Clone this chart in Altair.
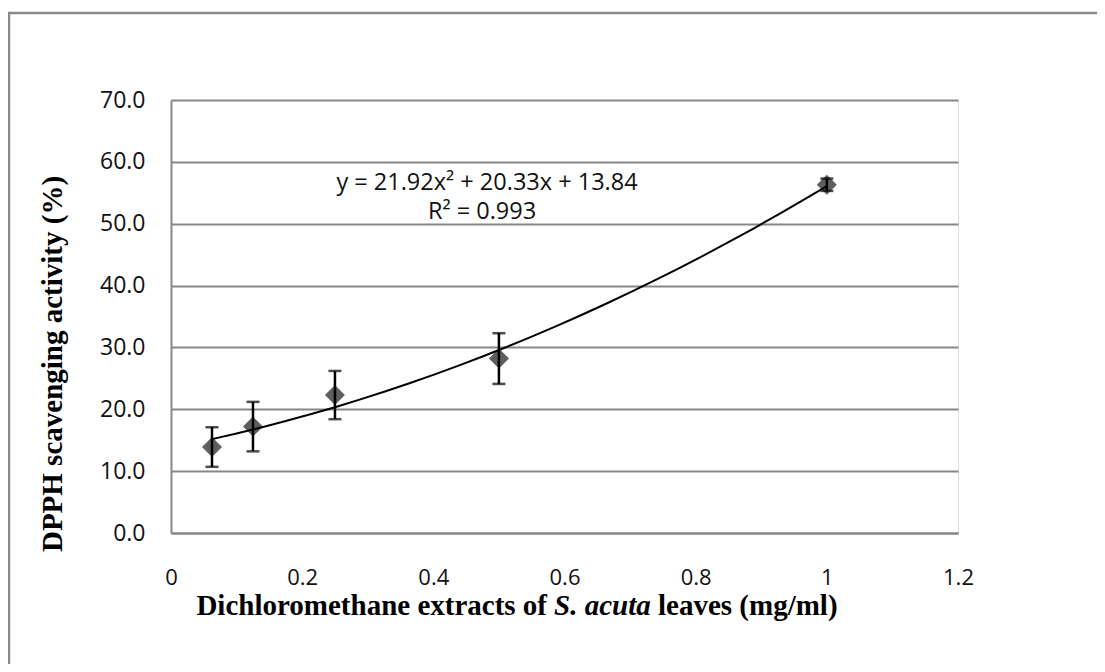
import altair as alt
import pandas as pd

# Data
conc = [0.0625, 0.125, 0.25, 0.5, 1.0]
activity = [13.9, 17.2, 22.3, 28.2, 56.3]
error = [3.2, 4.0, 3.9, 4.1, 1.0]

x_ticks = [0, 0.2, 0.4, 0.6, 0.8, 1.0, 1.2]
y_ticks = [0, 10, 20, 30, 40, 50, 60, 70]

eq_line1 = "y = 21.92x² + 20.33x + 13.84"
eq_line2 = "R² = 0.993"
y_title = "DPPH scavenging activity (%)"
x_title_a = "Dichloromethane extracts of"
x_title_b = "S. acuta"
x_title_c = "leaves (mg/ml)"

df = pd.DataFrame({
    "x": conc,
    "y": activity,
    "lo": [a - e for a, e in zip(activity, error)],
    "hi": [a + e for a, e in zip(activity, error)],
})

W, H = 787, 433
GRID = "#878787"
LABEL_FONT = "Open Sans"
TITLE_FONT = "Liberation Serif"

xscale = alt.Scale(domain=[0, 1.2], nice=False, zero=False)
yscale = alt.Scale(domain=[0, 70], nice=False)

xaxis = alt.Axis(values=x_ticks, format="~g", grid=False, ticks=False,
                 domainColor=GRID, domainWidth=2, labelFont=LABEL_FONT,
                 labelFontSize=22, labelColor="#111", labelPadding=34,
                 labelFlush=False, labelOverlap=False, title=None)
yaxis = alt.Axis(values=y_ticks, format=".1f", grid=True, gridColor=GRID,
                 gridWidth=2, ticks=False, domainColor=GRID, domainWidth=2,
                 labelFont=LABEL_FONT, labelFontSize=23, labelColor="#111",
                 labelPadding=26, labelFlush=False, labelOverlap=False,
                 title=None)

base = alt.Chart(df)

points = base.mark_point(shape="diamond", filled=True, size=400,
                         color="#5e5e5e", opacity=1).encode(
    x=alt.X("x:Q", scale=xscale, axis=xaxis),
    y=alt.Y("y:Q", scale=yscale, axis=yaxis),
)

err_rule = base.mark_rule(color="black", strokeWidth=2.5).encode(
    x="x:Q", y="lo:Q", y2="hi:Q")
cap_lo = base.mark_tick(color="black", thickness=2.5, size=13,
                        orient="horizontal").encode(x="x:Q", y="lo:Q")
cap_hi = base.mark_tick(color="black", thickness=2.5, size=13,
                        orient="horizontal").encode(x="x:Q", y="hi:Q")

trend = base.transform_regression(
    "x", "y", method="poly", order=2, extent=[0.0625, 1.0]
).mark_line(color="black", strokeWidth=2).encode(x="x:Q", y="y:Q")

eq1 = alt.Chart().mark_text(text=eq_line1, font=LABEL_FONT, fontSize=23.5,
                            color="#111", align="center", baseline="middle").encode(
    x=alt.value(316), y=alt.value(83))
eq2 = alt.Chart().mark_text(text=eq_line2, font=LABEL_FONT, fontSize=23.5,
                            color="#111", align="center", baseline="middle").encode(
    x=alt.value(311), y=alt.value(112))

ytitle = alt.Chart().mark_text(text=y_title, font=TITLE_FONT, fontSize=29,
                               fontWeight="bold", angle=270, color="black",
                               align="center", baseline="middle").encode(
    x=alt.value(-118), y=alt.value(264))

TY = 515
xt_a = alt.Chart().mark_text(text=x_title_a, font=TITLE_FONT, fontSize=29,
                             fontWeight="bold", color="black", align="right",
                             baseline="alphabetic").encode(
    x=alt.value(376), y=alt.value(TY))
xt_b = alt.Chart().mark_text(text=x_title_b, font=TITLE_FONT, fontSize=29,
                             fontWeight="bold", fontStyle="italic", color="black",
                             align="left", baseline="alphabetic").encode(
    x=alt.value(383), y=alt.value(TY))
xt_c = alt.Chart().mark_text(text=x_title_c, font=TITLE_FONT, fontSize=29,
                             fontWeight="bold", color="black", align="left",
                             baseline="alphabetic").encode(
    x=alt.value(487), y=alt.value(TY))

frame = alt.Chart().mark_rect(fill=None, stroke="#8a8a8a", strokeWidth=2.5).encode(
    x=alt.value(-162), x2=alt.value(1100), y=alt.value(-87), y2=alt.value(800))

chart = alt.layer(
    frame, points, err_rule, cap_lo, cap_hi, trend, eq1, eq2, ytitle, xt_a, xt_b, xt_c
).properties(
    width=W, height=H,
    autosize=alt.AutoSizeParams(type="none"),
    padding={"left": 163, "top": 92, "right": 139, "bottom": 131},
).configure_view(stroke=None).configure(background="white")

chart.save("out.html", embed_options={"renderer": "svg", "actions": False})
